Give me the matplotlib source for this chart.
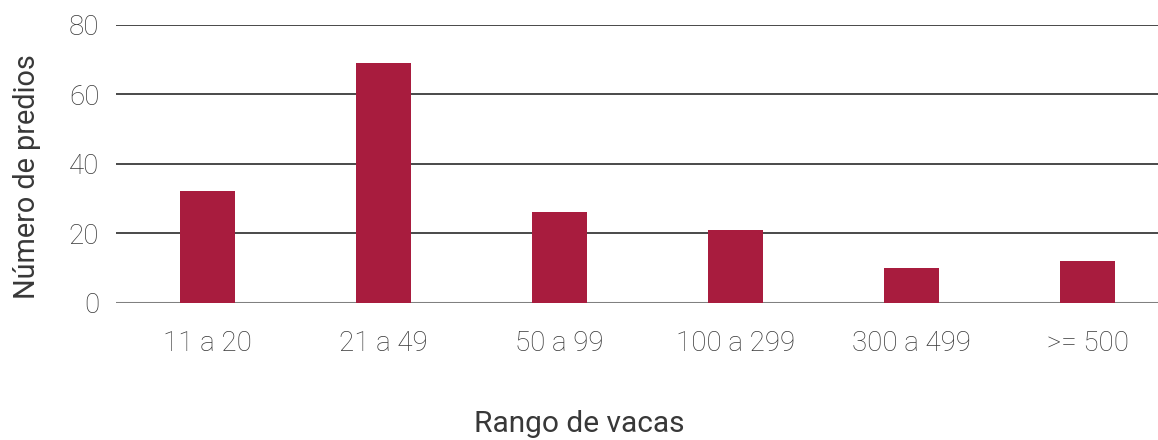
import matplotlib
matplotlib.use("Agg")
import matplotlib.pyplot as plt

categories = ["11 a 20", "21 a 49", "50 a 99", "100 a 299", "300 a 499", ">= 500"]
predios = [32, 69, 26, 21, 10, 12]
y_ticks = [0, 20, 40, 60, 80]

plt.rcParams['font.family'] = ['Roboto', 'DejaVu Sans']

fig = plt.figure(figsize=(11.58, 4.40), dpi=100)
ax = fig.add_axes([0.1002, 0.312, 0.8998, 0.632])

x = list(range(len(categories)))
ax.bar(x, predios, width=0.3125, color="#A81C3E", zorder=2)

# horizontal gridlines, baseline slightly heavier and lighter
for t in y_ticks[1:]:
    ax.axhline(t, color="#3a3a3a", lw=1.3, zorder=1)
ax.axhline(0, color="#808080", lw=2.2, zorder=1)

ax.set_xlim(-0.52, 5.40)
ax.set_ylim(0, 80)
ax.set_yticks(y_ticks)
ax.set_xticks(x)
ax.set_xticklabels(categories)

for s in ax.spines.values():
    s.set_visible(False)
ax.tick_params(axis="both", length=0, labelsize=20, labelcolor="#383838")
ax.tick_params(axis="y", pad=12)
ax.tick_params(axis="x", pad=20)
for lab in ax.get_xticklabels() + ax.get_yticklabels():
    lab.set_fontweight("light")

fig.text(0.5, 0.004, "Rango de vacas", ha="center", va="bottom",
         fontsize=21.5, color="#383838")
fig.text(0.023, 0.598, "Número de predios", rotation=90, ha="center", va="center",
         fontsize=20.8, color="#383838")

fig.savefig("out.png", dpi=100)
